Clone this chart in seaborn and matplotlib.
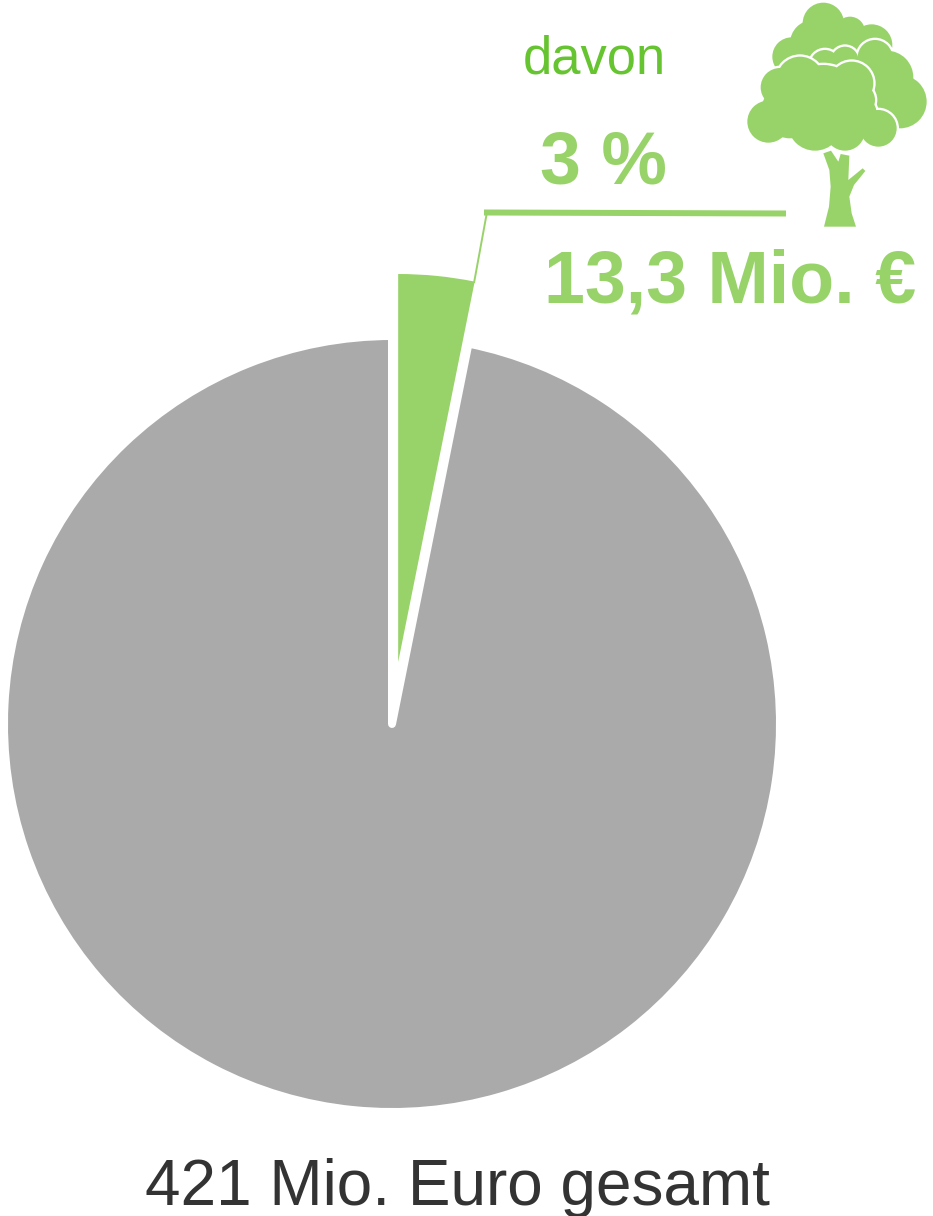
import matplotlib
matplotlib.use('Agg')
import matplotlib.pyplot as plt
import seaborn as sns
from matplotlib.patches import Circle, Polygon

sns.set_theme(style="white")
plt.rcParams['font.family'] = ['Liberation Sans', 'DejaVu Sans']

# Data (Mio. Euro)
labels = ['davon', 'Sonstige']
values = [13.3, 407.7]
colors = ['#98d36a', '#aaaaaa']

W, H = 933, 1216
GREEN = colors[0]


def py(y):
    return H - y


def tx(x):
    return 730 + x / 3


def ty(y):
    return H - y / 3


fig = plt.figure(figsize=(W / 100, H / 100), dpi=100)
ax = fig.add_axes([0, 0, 1, 1])

# Pie, small slice pulled out of the circle (explode is in data units here)
wedges, _ = ax.pie(values, explode=[62.3, 0], colors=colors, startangle=90, counterclock=False,
                   center=(392, py(724)), radius=388,
                   wedgeprops=dict(edgecolor='white', linewidth=8 * 0.72, joinstyle='round'))
wedges[0].set_edgecolor('none')
wedges[0].set_linewidth(0)
ax.set_xlim(0, W)
ax.set_ylim(0, H)
ax.set_aspect('equal')
ax.axis('off')

# Leader line
ax.plot([474, 487], [py(283), py(212)], color=GREEN, lw=1.4, solid_capstyle='butt')
ax.plot([484, 786], [py(212.5), py(213.5)], color=GREEN, lw=6 * 0.72, solid_capstyle='butt')

# Tree icon, crop units of a 3x zoom
back = [(280, 70, 62), (360, 95, 45), (425, 135, 62), (185, 170, 58), (300, 130, 70), (250, 130, 70)]
mid = [(285, 195, 45), (345, 180, 40), (435, 172, 52), (470, 232, 80), (510, 305, 80),
       (360, 280, 90), (440, 260, 70), (400, 230, 60)]
front = [(210, 240, 70), (365, 250, 65), (150, 262, 58), (115, 365, 63), (255, 370, 82),
         (345, 392, 60), (445, 385, 55), (280, 310, 115), (390, 340, 50), (180, 330, 85),
         (290, 255, 50), (385, 300, 50)]
trunk = [(280, 460), (303, 452), (325, 485), (332, 462), (358, 467), (355, 540), (398, 505),
         (406, 513), (372, 555), (358, 590), (365, 640), (378, 680), (282, 680), (297, 620),
         (302, 560), (298, 510)]


def crown(circles, outline, z):
    if outline:
        for x, y, r in circles:
            ax.add_patch(Circle((tx(x), ty(y)), (r + outline) / 3, fc='white', ec='none', zorder=z))
    for x, y, r in circles:
        ax.add_patch(Circle((tx(x), ty(y)), r / 3, fc=GREEN, ec='none', zorder=z + 0.5))


crown(back, 0, 3)
crown(mid, 7, 4)
crown(front, 7, 5)
ax.add_patch(Polygon([(tx(x), ty(y)) for x, y in trunk], closed=True, fc=GREEN, ec='none', zorder=3))

# Text
ax.text(594, py(73), 'davon', color='#66c430', fontsize=37.8, ha='center', va='baseline')
ax.text(604, py(184), '3 %', color=GREEN, fontsize=53, fontweight='bold', ha='center', va='baseline')
ax.text(730.5, py(303), '13,3 Mio. €', color=GREEN, fontsize=53, fontweight='bold', ha='center', va='baseline')
ax.text(457, py(1205), '421 Mio. Euro gesamt', color='#333333', fontsize=46, ha='center', va='baseline')

plt.savefig('out.png', dpi=100)
plt.close()
